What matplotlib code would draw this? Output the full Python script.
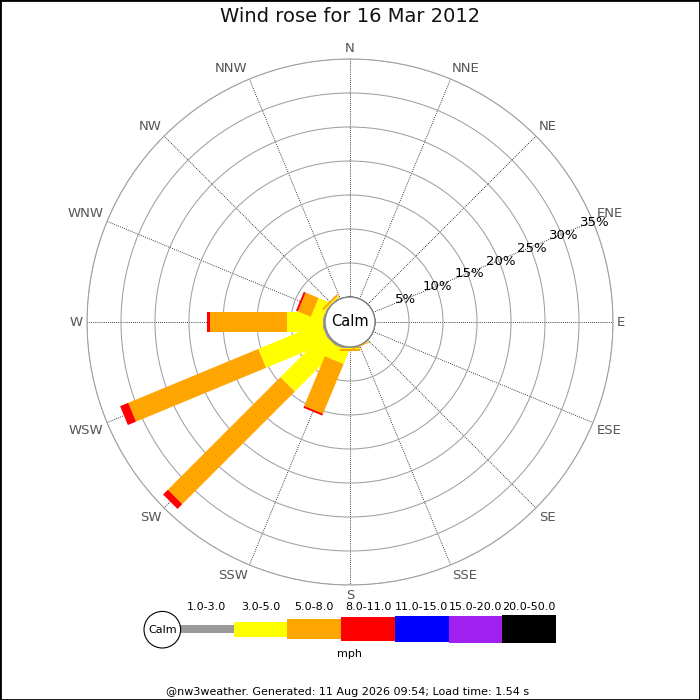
import numpy as np
import matplotlib
matplotlib.use("Agg")
import matplotlib.pyplot as plt
from matplotlib.patches import Rectangle, Circle
from matplotlib.transforms import Affine2D

# ---- data ----
title = "Wind rose for 16 Mar 2012"
footer = "@nw3weather. Generated: 11 Aug 2026 09:54; Load time: 1.54 s"
directions = ["N", "NNE", "NE", "ENE", "E", "ESE", "SE", "SSE",
              "S", "SSW", "SW", "WSW", "W", "WNW", "NW", "NNW"]
dir_degrees = [0, 22.5, 45, 67.5, 90, 112.5, 135, 157.5,
               180, 202.5, 225, 247.5, 270, 292.5, 315, 337.5]
speed_bins = ["1.0-3.0", "3.0-5.0", "5.0-8.0", "8.0-11.0",
              "11.0-15.0", "15.0-20.0", "20.0-50.0"]
bin_colors = ["#999999", "#ffff00", "#ffa500", "#ff0000",
              "#0000ff", "#a020f0", "#000000"]
ring_pcts = [5, 10, 15, 20, 25, 30, 35]

# percent of observations per direction (N .. NNW), one list per speed bin
pct_1_3 =   [0, 0, 0, 0, 0, 0, 0, 0.05, 0.15, 0.3, 0.3, 0.3, 0.3, 0.2, 0.1, 0]
pct_3_5 =   [0, 0, 0, 0, 0, 0, 0, 0, 0.15, 2.1, 9.0, 10.0, 5.3, 1.75, 0.2, 0]
pct_5_8 =   [0, 0, 0, 0, 0, 0, 0, 0.15, 0.35, 7.9, 23.4, 20.7, 11.3, 2.05, 0.3, 0]
pct_8_11 =  [0, 0, 0, 0, 0, 0, 0, 0, 0, 0.3, 1.0, 1.3, 0.5, 0.3, 0, 0]
pct_11_15 = [0] * 16
pct_15_20 = [0] * 16
pct_20_50 = [0] * 16
bin_values = [pct_1_3, pct_3_5, pct_5_8, pct_8_11, pct_11_15, pct_15_20, pct_20_50]

# ---- layout ----
W = H = 700
cx, cy, rpx = 350, 322, 263          # centre and outer radius in pixels
px_per_pct = 6.8
calm_r = 25 / px_per_pct             # calm circle radius in percent units
bar_half = 1.5                       # half width of a bar, percent units
rlabel_angle = 68                    # compass angle of the % labels
dir_label_r = 267 / px_per_pct - calm_r
legend_heights = [8.3, 15, 20.7, 23.3, 25.3, 27, 28.7]   # px
ring_color = "#a0a0a0"

fig = plt.figure(figsize=(7, 7), dpi=100)
rect = [(cx - rpx) / W, (H - cy - rpx) / H, 2 * rpx / W, 2 * rpx / H]

ax = fig.add_axes(rect, projection="polar")
ax.set_theta_zero_location("N")
ax.set_theta_direction(-1)
ax.set_ylim(0, ring_pcts[-1])
ax.set_rorigin(-calm_r)
ax.set_xticks(np.deg2rad(dir_degrees))
ax.set_xticklabels([])
ax.set_yticks(ring_pcts)
ax.set_yticklabels([])
ax.xaxis.grid(True, color="black", linestyle=(0, (1, 1.5)), linewidth=0.6)
ax.yaxis.grid(True, color=ring_color, linestyle="-", linewidth=0.75)
ax.spines["polar"].set_color(ring_color)
ax.spines["polar"].set_linewidth(0.75)
ax.tick_params(length=0)

# compass labels, aligned so the inner edge sits just outside the ring
for name, d in zip(directions, dir_degrees):
    s, c = np.sin(np.deg2rad(d)), np.cos(np.deg2rad(d))
    ha = "left" if s > 0.1 else ("right" if s < -0.1 else "center")
    va = "bottom" if c > 0.1 else ("top" if c < -0.1 else "center")
    ax.text(np.deg2rad(d), dir_label_r, name, ha=ha, va=va, fontsize=9.5,
            color="#555555", clip_on=False)

for v in ring_pcts:
    ax.text(np.deg2rad(rlabel_angle), v + 0.2, f"{v}%", ha="center", va="center",
            fontsize=9.5, color="black", clip_on=False, zorder=4)

# overlay in cartesian percent units for the rectangular bars
lim = ring_pcts[-1] + calm_r
ov = fig.add_axes(rect)
ov.set_xlim(-lim, lim)
ov.set_ylim(-lim, lim)
ov.axis("off")
ov.patch.set_alpha(0)

cum = np.zeros(len(directions))
for vals, color in zip(bin_values, bin_colors):
    vals = np.asarray(vals, dtype=float)
    for k, d in enumerate(dir_degrees):
        if vals[k] <= 0:
            continue
        rot = Affine2D().rotate_deg(90 - d) + ov.transData
        ov.add_patch(Rectangle((calm_r + cum[k], -bar_half), vals[k], 2 * bar_half,
                               facecolor=color, edgecolor="none", transform=rot))
    cum += vals

ov.add_patch(Circle((0, 0), calm_r, facecolor="white", edgecolor="#888888",
                    linewidth=1, zorder=5))
ov.text(0, 0, "Calm", ha="center", va="center", fontsize=10.5, zorder=6)

# ---- legend ----
lx0, lx1, ly0, ly1 = 180, 556, 614.5, 643.5
lg = fig.add_axes([lx0 / W, (H - ly1) / H, (lx1 - lx0) / W, (ly1 - ly0) / H])
xs = np.arange(len(speed_bins))
hh = np.array(legend_heights)
lg.bar(xs, hh, bottom=-hh / 2, width=1.0, align="edge", color=bin_colors)
lg.set_xlim(0, len(speed_bins))
lg.set_ylim(-(ly1 - ly0) / 2, (ly1 - ly0) / 2)
lg.axis("off")
for i, lbl in enumerate(speed_bins):
    lg.annotate(lbl, xy=(i + 0.5, 1), xycoords=("data", "axes fraction"),
                xytext=(0, 5.5), textcoords="offset points",
                ha="center", va="center", fontsize=8)

fig.patches.append(Circle((162.3 / 100, (H - 629.7) / 100), 0.183,
                          transform=fig.dpi_scale_trans, facecolor="white",
                          edgecolor="black", linewidth=0.8))
fig.text(162.3 / W, (H - 629.7) / H, "Calm", ha="center", va="center", fontsize=8)
fig.text(0.5, (H - 654) / H, "mph", ha="center", va="center", fontsize=8)

fig.text(0.5, (H - 17) / H, title, ha="center", va="center", fontsize=14, color="#111111")
fig.text(0.497, (H - 692) / H, footer, ha="center", va="center", fontsize=8)

fig.patches.append(Rectangle((0, 0), 1, 1, transform=fig.transFigure, fill=False,
                             edgecolor="black", linewidth=2))

fig.savefig("out.png", dpi=100)
